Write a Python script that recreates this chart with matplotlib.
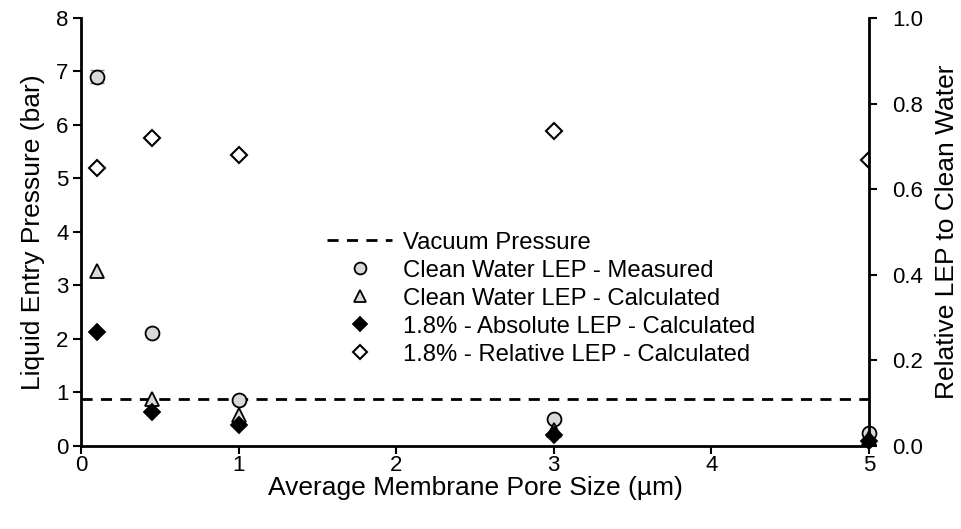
import matplotlib
matplotlib.use("Agg")
import matplotlib.pyplot as plt

# ----------------------------
# Data
# ----------------------------

pore_size = [0.1, 0.45, 1, 3, 5]

clean_measured = [6.9, 2.12, 0.85, 0.5, 0.25]
clean_measured_err = [0.12, 0.0, 0.0, 0.0, 0.0]
clean_calculated = [3.27, 0.88, 0.58, 0.29, 0.15]
absolute_lep = [2.13, 0.64, 0.40, 0.21, 0.10]
relative_lep = [0.65, 0.72, 0.68, 0.735, 0.668]

vacuum_x = [0, 5]
vacuum_pressure = [0.87, 0.87]

# ----------------------------
# Plot
# ----------------------------

plt.rcParams["font.family"] = ["Liberation Sans", "DejaVu Sans"]
plt.rcParams["font.size"] = 16

fig = plt.figure(figsize=(9.61, 5.29), dpi=100)
ax = fig.add_axes([0.0843, 0.157, 0.8199, 0.809])
ax2 = ax.twinx()

line_vac, = ax.plot(vacuum_x, vacuum_pressure, color="black", lw=2,
                    dashes=(4, 3), label="Vacuum Pressure")
ax.errorbar(pore_size, clean_measured, yerr=clean_measured_err, fmt="none",
            ecolor="#808080", elinewidth=1.2, capsize=5, zorder=2)
m_meas, = ax.plot(pore_size, clean_measured, "o", ms=10, mfc="#d9d9d9",
                  mec="black", mew=1.3, ls="none", clip_on=False,
                  label="Clean Water LEP - Measured", zorder=3)
m_calc, = ax.plot(pore_size, clean_calculated, "^", ms=10, mfc="#d9d9d9",
                  mec="black", mew=1.3, ls="none", clip_on=False,
                  label="Clean Water LEP - Calculated", zorder=4)
m_abs, = ax.plot(pore_size, absolute_lep, "D", ms=8, mfc="black",
                 mec="black", mew=1.3, ls="none", clip_on=False,
                 label="1.8% - Absolute LEP - Calculated", zorder=5)
m_rel, = ax2.plot(pore_size, relative_lep, "D", ms=8, mfc="white",
                  mec="black", mew=1.5, ls="none",
                  label="1.8% - Relative LEP - Calculated")

ax.set_xlim(0, 5)
ax.set_ylim(0, 8)
ax2.set_ylim(0, 1.0)
ax2.set_yticks([0, 0.2, 0.4, 0.6, 0.8, 1.0])
ax2.set_yticklabels(["0.0", "0.2", "0.4", "0.6", "0.8", "1.0"])

ax.set_xlabel("Average Membrane Pore Size (µm)", fontsize=19, labelpad=0)
ax.set_ylabel("Liquid Entry Pressure (bar)", fontsize=19, labelpad=8)
ax2.set_ylabel("Relative LEP to Clean Water", fontsize=19, labelpad=9)

for a in (ax, ax2):
    a.spines["top"].set_visible(False)
    for s in a.spines.values():
        s.set_linewidth(2)
    a.tick_params(direction="out", width=1.5, length=5.5, labelsize=16)
ax.tick_params(axis="x", pad=1)
ax.tick_params(axis="y", pad=3.5)
ax2.tick_params(axis="y", pad=11)
ax2.spines["left"].set_visible(False)
ax2.spines["bottom"].set_visible(False)
ax.spines["right"].set_visible(False)

ax.legend(handles=[line_vac, m_meas, m_calc, m_abs, m_rel],
          loc="upper left", bbox_to_anchor=(0.2995, 0.523), frameon=False,
          fontsize=17.2, handlelength=2.76, handletextpad=0.46,
          labelspacing=0.25, borderaxespad=0, markerscale=0.85)

fig.savefig("out.png", dpi=100)
